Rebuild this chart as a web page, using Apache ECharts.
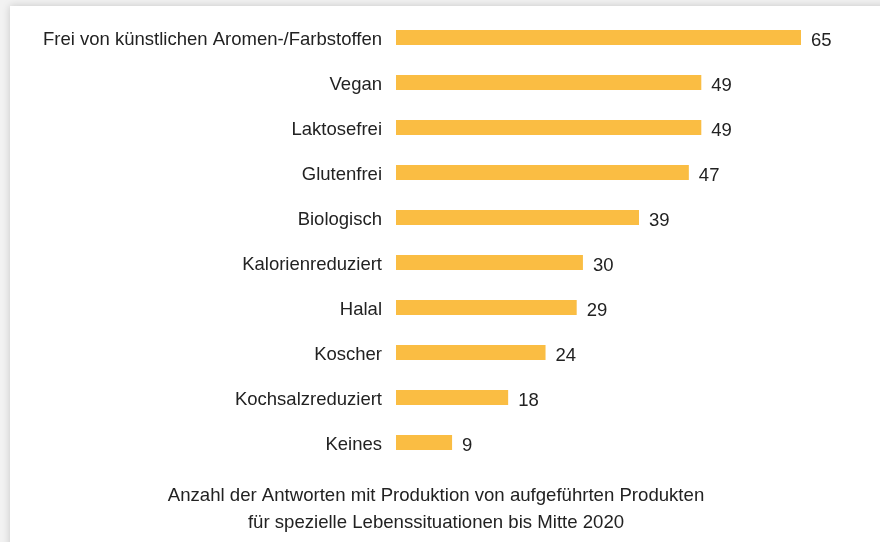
<!DOCTYPE html>
<html><head><meta charset="utf-8">
<script src="https://cdn.jsdelivr.net/npm/echarts@6/dist/echarts.min.js"></script>
<style>html,body{margin:0;padding:0;background:#f2f2f2}#c{width:880px;height:542px}</style>
</head><body><div id="c"></div>
<script>
const categories = ["Frei von künstlichen Aromen-/Farbstoffen","Vegan","Laktosefrei","Glutenfrei","Biologisch","Kalorienreduziert","Halal","Koscher","Kochsalzreduziert","Keines"];
const values = [65,49,49,47,39,30,29,24,18,9];
const titleLines = ["Anzahl der Antworten mit Produktion von aufgeführten Produkten","für spezielle Lebenssituationen bis Mitte 2020"];
const FONT = "'Liberation Sans',Arial,sans-serif";
const chart = echarts.init(document.getElementById('c'));
chart.setOption({
  backgroundColor: '#f2f2f2',
  animation: false,
  graphic: [
    {type:'rect', z:-10, shape:{x:10,y:6,width:900,height:560}, style:{fill:'#ffffff', shadowBlur:8, shadowColor:'rgba(0,0,0,0.18)'}},
    {type:'text', x:436, y:509, z:10, style:{text:titleLines.join('\n'), align:'center', verticalAlign:'middle', font:"18.6px 'Liberation Sans',Arial,sans-serif", fill:'#222', lineHeight:27}}
  ],
  grid: {left:396, top:15, width:405, height:450, containLabel:false},
  xAxis: {type:'value', min:0, max:65, show:false},
  yAxis: {type:'category', data:categories, inverse:true, axisLine:{show:false}, axisTick:{show:false},
    axisLabel:{margin:14, formatter: v => '{a|' + v + '}',
      rich:{a:{fontFamily:FONT, fontSize:18.5, color:'#222', padding:[4,0,0,0]}}}},
  series: [{type:'bar', data:values, barWidth:15, itemStyle:{color:'#FABD43'},
    label:{show:true, position:'right', distance:10, fontFamily:FONT, fontSize:18.5, color:'#222', offset:[0,3]}}]
});
</script></body></html>
